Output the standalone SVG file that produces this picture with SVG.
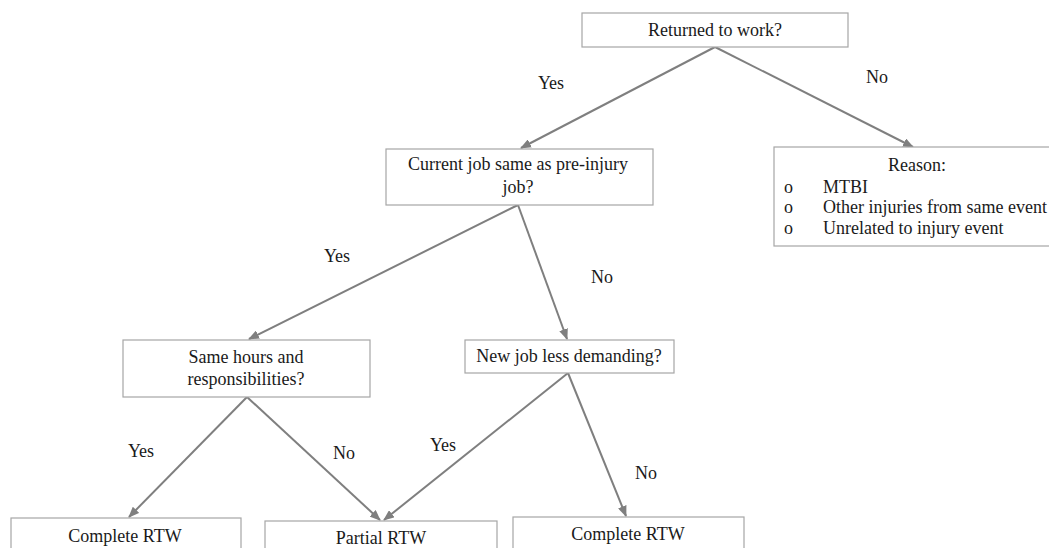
<svg xmlns="http://www.w3.org/2000/svg" width="1049" height="548" viewBox="0 0 1049 548">
<defs>
<marker id="ah" markerWidth="11" markerHeight="9" refX="10" refY="4.5" orient="auto" markerUnits="userSpaceOnUse">
<path d="M0,0 L11,4.5 L0,9 Z" fill="#7f7f7f"/>
</marker>
<style>
.box{fill:#fff;stroke:#a6a6a6;stroke-width:1.2}
.t{font-family:"Liberation Serif","Times New Roman",serif;font-size:18px;fill:#1a1a1a}
.c{text-anchor:middle}
.ln{stroke:#7f7f7f;stroke-width:2;fill:none;marker-end:url(#ah)}
</style>
</defs>
<rect width="1049" height="548" fill="#fff"/>
<g id="connectors">
<line class="ln" x1="715" y1="47" x2="521" y2="148"/>
<line class="ln" x1="715" y1="47" x2="913" y2="147"/>
<line class="ln" x1="518" y1="205" x2="249" y2="339"/>
<line class="ln" x1="518" y1="205" x2="567" y2="339"/>
<line class="ln" x1="247" y1="397" x2="129" y2="517"/>
<line class="ln" x1="247" y1="397" x2="380" y2="520"/>
<line class="ln" x1="568" y1="373" x2="384" y2="520"/>
<line class="ln" x1="568" y1="373" x2="626" y2="516"/>
</g>
<g id="labels">
<text class="t c" x="551" y="89">Yes</text>
<text class="t c" x="877" y="83">No</text>
<text class="t c" x="337" y="262">Yes</text>
<text class="t c" x="602" y="283">No</text>
<text class="t c" x="141" y="457">Yes</text>
<text class="t c" x="344" y="459">No</text>
<text class="t c" x="443" y="451">Yes</text>
<text class="t c" x="646" y="479">No</text>
</g>
<g id="returned">
<rect class="box" x="582" y="13" width="266" height="34"/>
<text class="t c" x="715" y="36">Returned to work?</text>
</g>
<g id="reason">
<rect class="box" x="774" y="147" width="290" height="99"/>
<text class="t c" x="917" y="171">Reason:</text>
<text class="t" x="784" y="193">o</text>
<text class="t" x="823" y="193">MTBI</text>
<text class="t" x="784" y="213">o</text>
<text class="t" x="823" y="213">Other injuries from same event</text>
<text class="t" x="784" y="234">o</text>
<text class="t" x="823" y="234">Unrelated to injury event</text>
</g>
<g id="current">
<rect class="box" x="386" y="149" width="267" height="56"/>
<text class="t c" x="518" y="170">Current job same as pre-injury</text>
<text class="t c" x="518" y="193">job?</text>
</g>
<g id="samehours">
<rect class="box" x="123" y="340" width="247" height="57"/>
<text class="t c" x="246" y="363">Same hours and</text>
<text class="t c" x="246" y="385">responsibilities?</text>
</g>
<g id="newjob">
<rect class="box" x="465" y="340" width="209" height="33"/>
<text class="t c" x="569" y="362">New job less demanding?</text>
</g>
<g id="complete1">
<rect class="box" x="11" y="518" width="230" height="40"/>
<text class="t c" x="125" y="542">Complete RTW</text>
</g>
<g id="partial">
<rect class="box" x="265" y="521" width="232" height="40"/>
<text class="t c" x="381" y="544">Partial RTW</text>
</g>
<g id="complete2">
<rect class="box" x="513" y="517" width="231" height="40"/>
<text class="t c" x="628" y="540">Complete RTW</text>
</g>
</svg>
